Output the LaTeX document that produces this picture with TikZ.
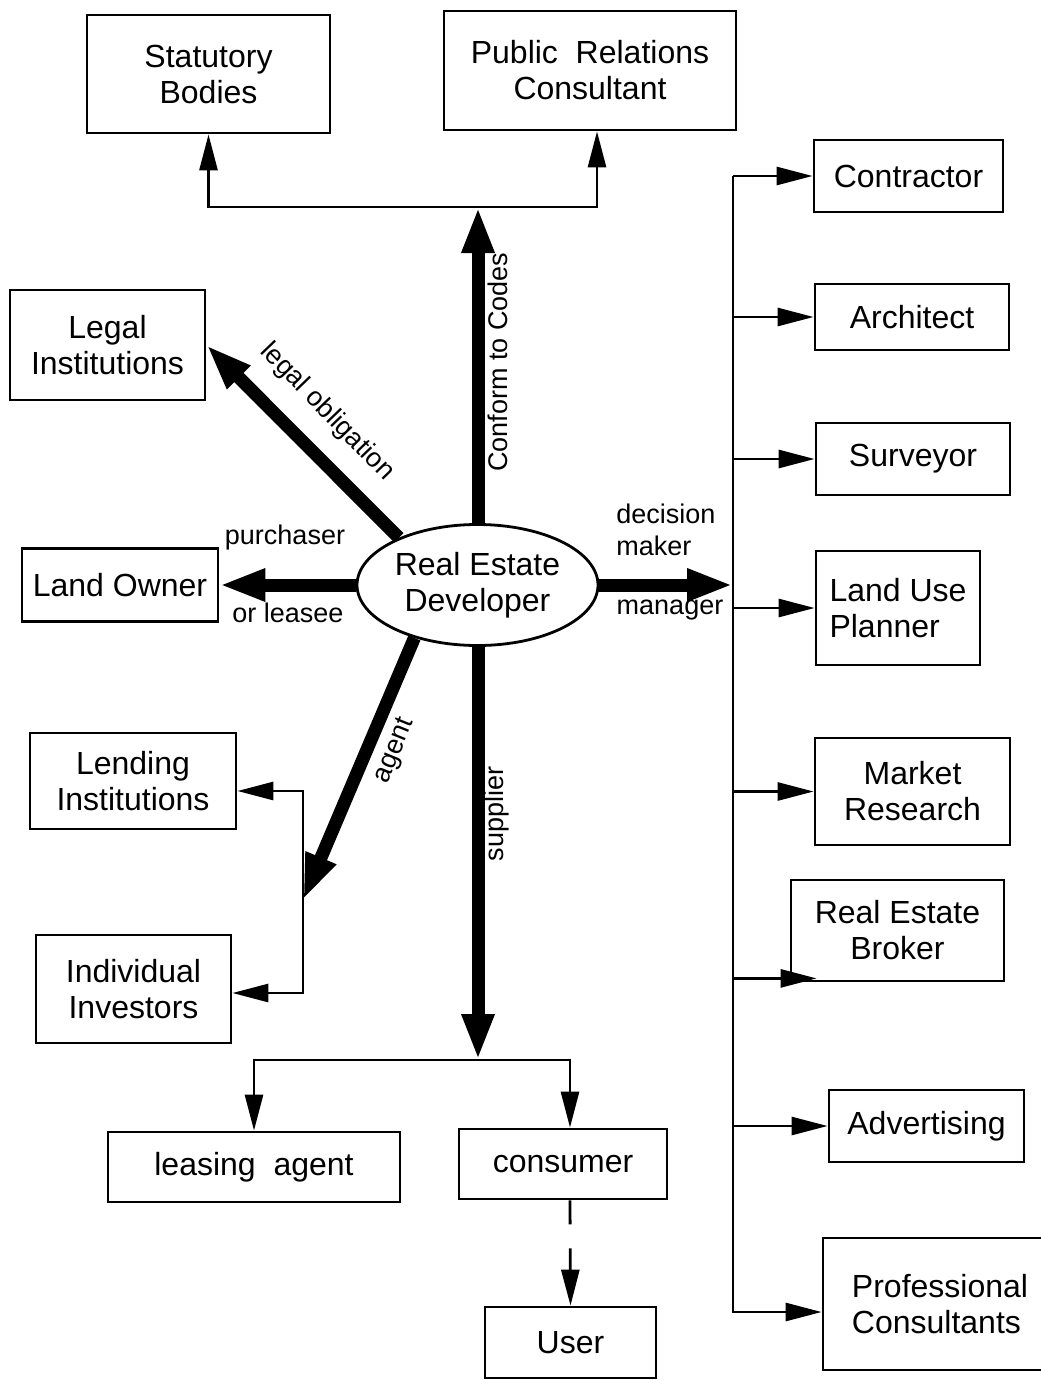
\documentclass[tikz,border=0pt]{standalone}
\usepackage{fontspec}
\setmainfont{Liberation Sans}
\usetikzlibrary{arrows.meta,shapes.geometric}

\newcommand{\boxfont}{\fontsize{16}{18}\selectfont}
\newcommand{\tagfont}{\fontsize{13.5}{16}\selectfont}

\tikzset{
  box/.style={draw, line width=1.4pt, inner sep=0pt, align=center, font=\boxfont},
  hub/.style={draw, ellipse, line width=1.4pt, inner sep=0pt, align=center,
    font=\boxfont, minimum width=120.5pt, minimum height=60.5pt},
  link/.style={line width=1.4pt, -{Triangle[length=18pt,width=9pt]}},
  bigarrow/.style={line width=6.5pt, -{Triangle[length=23pt,width=15pt]}},
  tag/.style={font=\tagfont, inner sep=0pt}
}

\begin{document}
\begin{tikzpicture}[x=0.5pt, y=-0.5pt]
        \useasboundingbox (0,0) rectangle (1040,1380);
        % centre
        \node[hub] (dev) at (477.5,585) {Real Estate\\Developer};
        % top
        \node[box, minimum width=121.5pt, minimum height=59pt] (statutory) at (208.5,74) {Statutory\\Bodies};
        \node[box, minimum width=146pt, minimum height=59.5pt] (pr) at (590,70.5) {Public\ \ Relations\\Consultant};
        % left
        \node[box, minimum width=97.5pt, minimum height=55pt] (legal) at (107.5,345) {Legal\\Institutions};
        \node[box, minimum width=98pt, minimum height=36.5pt] (owner) at (120,585) {Land Owner};
        \node[box, minimum width=103pt, minimum height=48pt] (lending) at (133,781) {Lending\\Institutions};
        \node[box, minimum width=97.5pt, minimum height=54pt] (investors) at (133.5,989) {Individual\\Investors};
        % bottom
        \node[box, minimum width=146pt, minimum height=35pt] (leasing) at (254,1167) {leasing\ \ agent};
        \node[box, minimum width=104pt, minimum height=35pt] (consumer) at (563,1164) {consumer};
        \node[box, minimum width=85.5pt, minimum height=35.5pt] (user) at (570.5,1342.5) {User};
        % right column
        \node[box, minimum width=94.5pt, minimum height=36pt] (contractor) at (908.5,176) {Contractor};
        \node[box, minimum width=97pt, minimum height=33pt] (architect) at (912,317) {Architect};
        \node[box, minimum width=97pt, minimum height=36pt] (surveyor) at (913,459) {Surveyor};
        \node[box, minimum width=82pt, minimum height=57pt, align=left] (planner) at (898,608) {Land Use\\Planner};
        \node[box, minimum width=97.5pt, minimum height=53.5pt] (market) at (912.5,791.5) {Market\\Research};
        \node[box, minimum width=106.5pt, minimum height=50.5pt] (broker) at (897.5,930.5) {Real Estate\\Broker};
        \node[box, minimum width=97.5pt, minimum height=36pt] (advert) at (926.5,1126) {Advertising};
        \node[box, minimum width=117pt, minimum height=66pt, align=left] (prof) at (940,1304) {Professional\\Consultants};

        % junctions
        \coordinate (jtop) at (478,207);
        \coordinate (jright) at (733,585);
        \coordinate (jagent) at (303,900);
        \coordinate (jbot) at (478,1060);
        \coordinate (rtop) at (733,176);
        \coordinate (brk) at ([xshift=13.5pt,yshift=2pt]broker.south west);
        \coordinate (profin) at ([yshift=-4pt]prof.west);

        % thick arrows
        \draw[bigarrow] (dev.north -| jtop) -- (jtop);
        \draw[bigarrow] (dev.east) -- (jright);
        \draw[bigarrow] (dev.west) -- (owner.east);
        \draw[bigarrow] (dev.149) -- (legal.east);
        \draw[bigarrow] (dev.220) -- (jagent);
        \draw[bigarrow] (dev.south -| jbot) -- (jbot);

        % thin arrows
        \draw[link] (jtop) -| (statutory.south);
        \draw[link] (jtop) -| ([xshift=3.5pt]pr.south);
        \draw[link] (jagent) |- ([yshift=-5pt]lending.east);
        \draw[link] (jagent) |- ([yshift=-2pt]investors.east);
        \draw[link] (jbot) -| (leasing.north);
        \draw[link] (jbot) -| ([xshift=3.5pt]consumer.north);
        \draw[link, dash pattern=on 12pt off 12pt] ([xshift=3.5pt]consumer.south) -- (user.north);
        \draw[link] (rtop) |- (profin);
        \draw[link] (rtop) -- (contractor.west);
        \foreach \b in {architect, surveyor, planner, market, advert}
          \draw[link] (rtop |- \b.west) -- (\b.west);
        \draw[link] (rtop |- brk) -- (brk);

        % labels
        \node[tag, rotate=90] (codes) at (498,362) {Conform to Codes};
        \node[tag, rotate=-46] (oblig) at (327,412) {legal obligation};
        \node[tag] (purch) at (285,538) {purchaser};
        \node[tag] (lease) at (288,613) {or leasee};
        \node[tag, anchor=west, align=left] (decis) at (616,530) {decision\\maker};
        \node[tag] (manag) at (670,610) {manager};
        \node[tag, rotate=68] (agt) at (395,751) {agent};
        \node[tag, rotate=90] (suppl) at (497,814) {supplier};
      \end{tikzpicture}
\end{document}
